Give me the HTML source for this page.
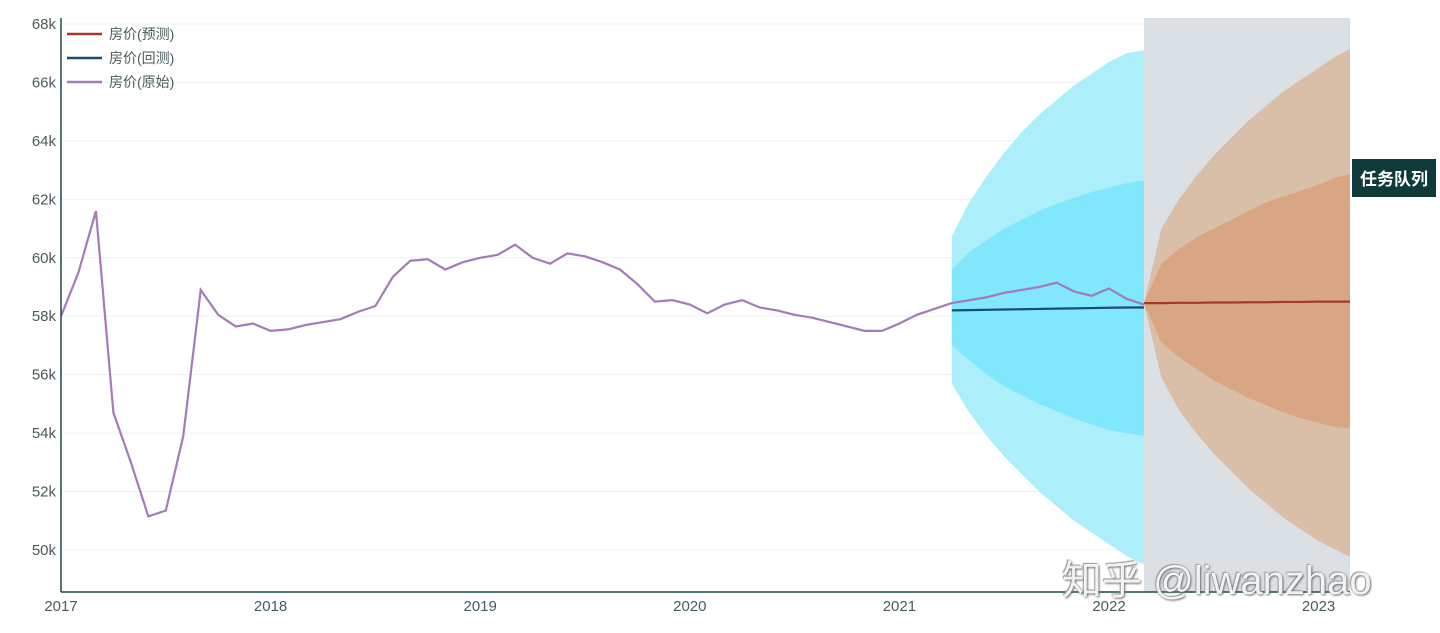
<!DOCTYPE html>
<html><head><meta charset="utf-8"><style>
body{margin:0;background:#fff;width:1440px;height:633px;overflow:hidden;font-family:"Liberation Sans","Noto Sans CJK SC",sans-serif}
svg text{font-family:"Liberation Sans","Noto Sans CJK SC",sans-serif}
#badge{position:absolute;left:1352px;top:159px;width:84px;height:38px;background:#0e3b3a;color:#fff;font-weight:bold;font-size:17px;line-height:38px;text-align:center;font-family:"Noto Sans CJK SC",sans-serif}
#wm{position:absolute;left:1062px;top:548px;font-size:40px;color:rgba(255,255,255,0.9);text-shadow:1px 1px 2px #666,-1px -1px 1px #999;font-family:"Liberation Sans","Noto Sans CJK SC",sans-serif}
</style></head><body>
<svg id="chart" width="1440" height="633" style="position:absolute;left:0;top:0"></svg>
<div id="badge">任务队列</div>
<div id="wm">知乎 @liwanzhao</div>
<script>
const yTicks=[50,52,54,56,58,60,62,64,66,68];
const xYears=[2017,2018,2019,2020,2021,2022,2023];
const rawValues=[58.0,59.5,61.6,54.7,53.0,51.15,51.35,53.9,58.9,58.05,57.65,57.75,57.5,57.55,57.7,57.8,57.9,58.15,58.35,59.35,59.9,59.95,59.6,59.85,60.0,60.1,60.45,60.0,59.8,60.15,60.05,59.85,59.6,59.1,58.5,58.55,58.4,58.1,58.4,58.55,58.3,58.2,58.05,57.95,57.8,57.65,57.5,57.5,57.75,58.05,58.25,58.45,58.55,58.65,58.8,58.9,59.0,59.15,58.85,58.7,58.95,58.6,58.4];
const backStart=51;
const backValues=[58.2,58.21,58.22,58.23,58.24,58.25,58.26,58.27,58.28,58.29,58.3,58.3];
const backOuterUp=[60.75,61.9,62.8,63.6,64.3,64.9,65.4,65.9,66.3,66.7,67.0,67.1];
const backOuterLo=[55.7,54.7,53.9,53.2,52.6,52.0,51.5,51.0,50.6,50.2,49.8,49.5];
const backInnerUp=[59.6,60.2,60.6,61.0,61.3,61.6,61.85,62.05,62.25,62.4,62.55,62.65];
const backInnerLo=[57.0,56.5,56.0,55.6,55.3,55.0,54.75,54.5,54.3,54.1,54.0,53.9];
const foreStart=62;
const foreValues=[58.45,58.45,58.46,58.46,58.47,58.47,58.48,58.48,58.49,58.49,58.5,58.5,58.5];
const foreOuterUp=[58.45,61.0,62.0,62.8,63.5,64.1,64.7,65.2,65.7,66.1,66.5,66.9,67.2];
const foreOuterLo=[58.45,55.9,54.8,54.0,53.3,52.7,52.1,51.6,51.1,50.7,50.3,50.0,49.7];
const foreInnerUp=[58.45,59.8,60.3,60.7,61.0,61.3,61.6,61.9,62.1,62.3,62.5,62.75,62.9];
const foreInnerLo=[58.45,57.1,56.6,56.2,55.8,55.5,55.2,54.95,54.7,54.5,54.35,54.2,54.15];

const L=61,R=1350,T=18,B=592;
const xm=m=>61+m*209.6/12;
const yv=v=>550-(v-50)*29.22;
const svg=document.getElementById('chart');
const NS='http://www.w3.org/2000/svg';
function mk(tag,attrs,parent){const e=document.createElementNS(NS,tag);for(const k in attrs)e.setAttribute(k,attrs[k]);(parent||svg).appendChild(e);return e;}
const defs=mk('defs',{});
const cp=mk('clipPath',{id:'clip'},defs);mk('rect',{x:L,y:T,width:R-L,height:B-T},cp);
// grid
yTicks.forEach(v=>{
 const g=mk('line',{x1:L,x2:R,y1:yv(v),y2:yv(v),stroke:'#eef0f4','stroke-width':1});
 
 
 const t=mk('text',{x:56,y:yv(v)+5,'text-anchor':'end','font-size':15,fill:'#4a5a5a'});
 t.textContent=v+'k';
 
 
});
const gplot=mk('g',{'clip-path':'url(#clip)'});
const gray=mk('rect',{x:xm(foreStart),y:T,width:R-xm(foreStart),height:B-T,fill:'#dbe0e5'},gplot);


function band(start,up,lo,fill,name){
 let d='';up.forEach((v,i)=>{d+=(i?'L':'M')+xm(start+i)+','+yv(v);});
 for(let i=lo.length-1;i>=0;i--)d+='L'+xm(start+i)+','+yv(lo[i]);
 const p=mk('path',{d:d+'Z',fill:fill},gplot);
 
 
}
band(backStart,backOuterUp,backOuterLo,'#aceffb','backtest-outer-band');
band(backStart,backInnerUp,backInnerLo,'#80e7fc','backtest-inner-band');
band(foreStart,foreOuterUp,foreOuterLo,'#d9bea8','forecast-outer-band');
band(foreStart,foreInnerUp,foreInnerLo,'#d9a683','forecast-inner-band');
function line(start,vals,color,name){
 const pts=vals.map((v,i)=>xm(start+i)+','+yv(v)).join(' ');
 const p=mk('polyline',{points:pts,fill:'none',stroke:color,'stroke-width':2.2},gplot);
 
 
}
line(0,rawValues,'#a37bb5','raw-price-line');
line(backStart,backValues,'#174e6a','backtest-line');
line(foreStart,foreValues,'#a33a2a','forecast-line');
// axes
mk('line',{x1:L,x2:L,y1:T,y2:B,stroke:'#1d4a48','stroke-width':1.5});
mk('line',{x1:L,x2:R,y1:B,y2:B,stroke:'#1d4a48','stroke-width':1.5});
xYears.forEach((yr,i)=>{
 const t=mk('text',{x:xm(i*12),y:611,'text-anchor':'middle','font-size':15,fill:'#4a5a5a'});
 t.textContent=yr;
 
 
});
// legend
const leg=[['房价(预测)','#a33a2a'],['房价(回测)','#174e6a'],['房价(原始)','#a37bb5']];
leg.forEach((l,i)=>{
 const g=mk('g',{});
 
 
 mk('line',{x1:67,x2:102,y1:34+i*24,y2:34+i*24,stroke:l[1],'stroke-width':2.5},g);
 const t=mk('text',{x:109,y:39+i*24,'font-size':14,fill:'#4a5a5a'},g);t.textContent=l[0];
});
</script>
</body></html>
